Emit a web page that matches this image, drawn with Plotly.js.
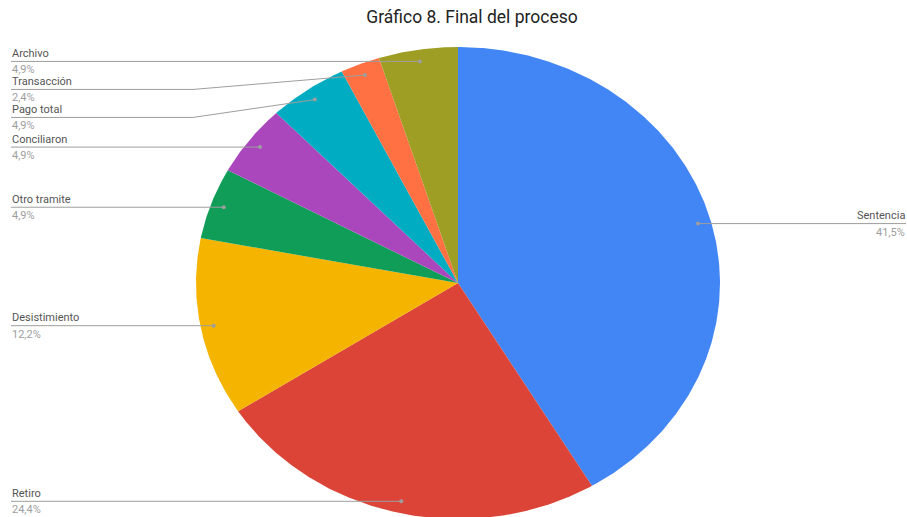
<!DOCTYPE html>
<html>
<head>
<meta charset="utf-8">
<script src="https://cdn.plot.ly/plotly-3.0.1.min.js"></script>
<style>html,body{margin:0;padding:0;background:#fff;}#chart{width:907px;height:517px;}</style>
</head>
<body>
<div id="chart"></div>
<script>
// ---- data ----
const categories = ["Sentencia", "Retiro", "Desistimiento", "Otro tramite", "Conciliaron", "Pago total", "Transacción", "Archivo"];
const counts = [17, 10, 5, 2, 2, 2, 1, 2];
const colors = ["#4285F4", "#DB4437", "#F4B400", "#0F9D58", "#AB47BC", "#00ACC1", "#FF7043", "#9E9D24"];
const titleText = "Gráfico 8. Final del proceso";

// ---- geometry (pixel-space axes) ----
const W = 907, H = 517;
const cx = 458, cy = 283, rx = 262, ry = 236;
const total = counts.reduce((a, b) => a + b, 0);
const pt = (deg, r) => {
  const t = deg * Math.PI / 180;
  return [cx + rx * r * Math.sin(t), cy - ry * r * Math.cos(t)];
};

const traces = [];
const labels = [];
let acc = 0;
counts.forEach((v, i) => {
  const a0 = acc / total * 360, a1 = (acc + v) / total * 360;
  acc += v;
  const xs = [cx], ys = [cy];
  const n = Math.max(2, Math.ceil((a1 - a0) * 2));
  for (let k = 0; k <= n; k++) {
    const p = pt(a0 + (a1 - a0) * k / n, 1);
    xs.push(p[0]); ys.push(p[1]);
  }
  xs.push(cx); ys.push(cy);
  traces.push({
    type: "scatter", mode: "lines", x: xs, y: ys, fill: "toself",
    fillcolor: colors[i], line: {width: 0, color: colors[i]}, hoverinfo: "skip", showlegend: false
  });
  const mid = (a0 + a1) / 2;
  const d = pt(mid, 0.95);
  labels.push({name: categories[i], pct: (v / total * 100).toFixed(1).replace(".", ",") + "%",
               dx: d[0], dy: d[1], side: mid < 180 ? "right" : "left"});
});

// resolve label collisions (top to bottom)
const minGap = 28;
["left", "right"].forEach(side => {
  const group = labels.filter(l => l.side === side).sort((a, b) => a.dy - b.dy);
  let last = -Infinity;
  group.forEach(l => {
    l.ly = Math.max(l.dy, last + minGap);
    last = l.ly;
  });
});

const annotations = [];
const lineX = [], lineY = [], dotX = [], dotY = [];
const leftX = 11, rightX = 906, bendX = 193;
labels.forEach(l => {
  if (l.side === "left") {
    if (Math.abs(l.ly - l.dy) > 0.5) {
      lineX.push(leftX, bendX, l.dx, null); lineY.push(l.ly, l.ly, l.dy, null);
    } else {
      lineX.push(leftX, l.dx, null); lineY.push(l.ly, l.dy, null);
    }
  } else {
    lineX.push(l.dx, rightX, null); lineY.push(l.dy, l.ly, null);
  }
  dotX.push(l.dx); dotY.push(l.dy);
  const ax = l.side === "left" ? leftX - 1 : rightX + 1;
  const anchor = l.side === "left" ? "left" : "right";
  annotations.push({x: ax, y: l.ly - 8, xref: "x", yref: "y", text: l.name, showarrow: false,
    xanchor: anchor, yanchor: "middle", font: {family: "Roboto", size: 11, color: "#555555"}});
  annotations.push({x: ax, y: l.ly + 8.5, xref: "x", yref: "y", text: l.pct, showarrow: false,
    xanchor: anchor, yanchor: "middle", font: {family: "Roboto", size: 11, color: "#9e9e9e"}});
});

traces.push({type: "scatter", mode: "lines", x: lineX, y: lineY, line: {color: "#9e9e9e", width: 1},
  hoverinfo: "skip", showlegend: false});
traces.push({type: "scatter", mode: "markers", x: dotX, y: dotY, marker: {color: "#9e9e9e", size: 4},
  hoverinfo: "skip", showlegend: false});

const layout = {
  width: W, height: H,
  margin: {l: 0, r: 0, t: 0, b: 0},
  paper_bgcolor: "#ffffff", plot_bgcolor: "#ffffff",
  xaxis: {range: [0, W], visible: false, fixedrange: true},
  yaxis: {range: [H, 0], visible: false, fixedrange: true},
  title: {text: titleText, x: 472 / W, xanchor: "center", xref: "paper",
    y: 1 - 17 / H, yref: "container", yanchor: "middle",
    font: {family: "Roboto", size: 17.5, color: "#222222"}},
  annotations: annotations,
  showlegend: false
};

Plotly.newPlot("chart", traces, layout, {displayModeBar: false, staticPlot: true});
</script>
</body>
</html>
